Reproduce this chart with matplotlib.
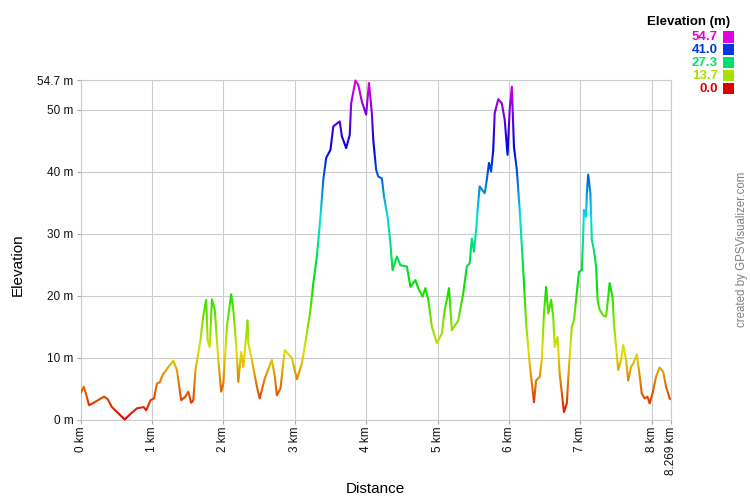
import numpy as np
import matplotlib
matplotlib.use("Agg")
import matplotlib.pyplot as plt
from matplotlib.colors import hsv_to_rgb
from matplotlib.transforms import Bbox, TransformedBbox
from matplotlib.patches import Rectangle

plt.rcParams['font.family'] = ['Liberation Sans', 'DejaVu Sans']

# ---- data (distance km, elevation m) ----
dist = [0.00, 0.046, 0.08, 0.12, 0.20, 0.33, 0.38, 0.44, 0.53, 0.62, 0.70, 0.79, 0.885, 0.92, 0.98,
        1.03, 1.07, 1.11, 1.15, 1.24, 1.30, 1.35, 1.38, 1.41, 1.47, 1.51, 1.55, 1.58, 1.61, 1.68,
        1.72, 1.76, 1.78, 1.81, 1.84, 1.88, 1.93, 1.97, 2.00, 2.05, 2.11, 2.14, 2.18, 2.21, 2.25,
        2.28, 2.34, 2.35, 2.40, 2.47, 2.51, 2.58, 2.68, 2.72, 2.75, 2.80, 2.86, 2.96, 3.03, 3.10,
        3.15, 3.22, 3.26, 3.31, 3.36, 3.40, 3.44, 3.50, 3.54, 3.63, 3.66, 3.72, 3.77, 3.79, 3.85,
        3.89, 3.94, 4.00, 4.04, 4.08, 4.10, 4.14, 4.17, 4.22, 4.25, 4.30, 4.34, 4.37, 4.43, 4.48,
        4.57, 4.62, 4.69, 4.73, 4.79, 4.83, 4.87, 4.92, 4.99, 5.06, 5.10, 5.13, 5.16, 5.20, 5.29,
        5.36, 5.41, 5.45, 5.48, 5.51, 5.54, 5.56, 5.59, 5.66, 5.69, 5.72, 5.75, 5.78, 5.80, 5.85,
        5.90, 5.94, 5.98, 6.01, 6.04, 6.07, 6.11, 6.15, 6.20, 6.24, 6.29, 6.35, 6.38, 6.43, 6.46,
        6.49, 6.52, 6.55, 6.59, 6.62, 6.64, 6.68, 6.71, 6.77, 6.81, 6.84, 6.88, 6.91, 6.95, 6.98,
        7.02, 7.04, 7.05, 7.08, 7.09, 7.11, 7.14, 7.16, 7.19, 7.22, 7.24, 7.27, 7.32, 7.36, 7.39,
        7.41, 7.45, 7.47, 7.50, 7.53, 7.57, 7.60, 7.64, 7.67, 7.71, 7.74, 7.79, 7.82, 7.86, 7.90,
        7.94, 7.97, 8.01, 8.06, 8.11, 8.16, 8.20, 8.25, 8.269]
elev = [4.2, 5.3, 4.0, 2.3, 2.8, 3.7, 3.3, 2.0, 1.0, 0.0, 0.9, 1.8, 2.0, 1.5, 3.1,
        3.4, 5.8, 6.0, 7.2, 8.6, 9.5, 8.0, 5.5, 3.1, 3.7, 4.5, 2.7, 3.1, 8.0, 12.8,
        16.8, 19.3, 12.8, 11.7, 19.4, 17.7, 9.6, 4.5, 5.8, 15.0, 20.2, 17.7, 12.0, 6.1, 10.9,
        8.5, 16.0, 12.3, 9.6, 5.3, 3.4, 6.6, 9.6, 7.0, 3.9, 5.0, 11.2, 9.9, 6.5, 9.0,
        12.5, 17.7, 22.0, 26.3, 32.7, 38.7, 42.2, 43.5, 47.3, 48.1, 45.7, 43.8, 45.9, 51.0, 54.7,
        54.0, 51.3, 49.2, 54.3, 49.4, 45.1, 40.3, 39.2, 38.9, 36.0, 32.7, 28.4, 24.1, 26.3, 24.9,
        24.7, 21.4, 22.5, 21.2, 19.8, 21.2, 19.3, 15.0, 12.3, 13.9, 17.7, 19.3, 21.2, 14.4, 16.0,
        20.4, 24.7, 25.2, 29.2, 27.1, 30.6, 33.8, 37.6, 36.5, 38.7, 41.4, 40.0, 43.5, 49.4, 51.7,
        51.0, 48.4, 42.7, 50.0, 53.7, 44.0, 40.3, 33.8, 24.1, 15.5, 9.0, 2.8, 6.3, 6.9, 9.6,
        17.1, 21.4, 17.1, 19.3, 16.6, 11.7, 13.3, 7.4, 1.2, 2.6, 8.5, 15.0, 16.0, 20.4, 23.8,
        24.1, 30.0, 33.8, 32.7, 36.5, 39.5, 36.5, 29.0, 27.3, 24.7, 19.3, 17.7, 16.8, 16.6, 19.8,
        22.0, 19.8, 15.5, 11.7, 8.0, 9.6, 12.0, 9.6, 6.3, 8.5, 9.0, 10.5, 8.0, 4.2, 3.4,
        3.7, 2.6, 4.2, 6.9, 8.4, 7.7, 5.3, 3.4, 3.2]

x_ticks = [0, 1, 2, 3, 4, 5, 6, 7, 8, 8.269]
x_labels = ['0 km', '1 km', '2 km', '3 km', '4 km', '5 km', '6 km', '7 km', '8 km', '8.269 km']
y_ticks = [0, 10, 20, 30, 40, 50, 54.7]
y_labels = ['0 m', '10 m', '20 m', '30 m', '40 m', '50 m', '54.7 m']
legend_values = [54.7, 41.0, 27.3, 13.7, 0.0]
legend_labels = ['54.7', '41.0', '27.3', '13.7', '0.0']

EMIN, EMAX = 0.0, 54.7
XMAX = 8.269


def elev_color(e):
    f = min(max((e - EMIN) / (EMAX - EMIN), 0.0), 1.0)
    return hsv_to_rgb([300.0 / 360.0 * f, 1.0, 0.88])


W, H = 750, 500
fig = plt.figure(figsize=(7.5, 5), dpi=100)
L, R, T, B = 80.5, 671, 80.5, 419.5
ax = fig.add_axes([L / W, 1 - B / H, (R - L) / W, (B - T) / H])
ax.set_xlim(0, XMAX)
ax.set_ylim(EMIN, EMAX)

grid_c = '#CCCCCC'
ax.set_xticks(x_ticks)
ax.set_xticklabels(x_labels, rotation=90)
ax.set_yticks(y_ticks)
ax.set_yticklabels(y_labels)
ax.grid(True, color=grid_c, lw=0.8, zorder=0)
ax.set_axisbelow(True)
for s in ax.spines.values():
    s.set_color(grid_c)
    s.set_linewidth(0.8)
ax.tick_params(axis='both', color='#AAAAAA', length=3, width=0.8,
               labelsize=8.5, labelcolor='#111111', pad=2)

# gradient-coloured line: draw the line in horizontal bands, each clipped
edges = np.arange(-3.0, 58.0, 0.5)
for a, b in zip(edges[:-1], edges[1:]):
    col = elev_color((a + b) / 2)
    ln, = ax.plot(dist, elev, color=col, lw=1.5, zorder=3,
                  solid_joinstyle='round', solid_capstyle='butt')
    ln.set_clip_box(TransformedBbox(Bbox([[0, a], [XMAX, b]]), ax.transData))

ax.set_xlabel('Distance', fontsize=11, labelpad=0)
ax.xaxis.set_label_coords(((375) - L) / (R - L), -(489 - B) / (B - T))
ax.set_ylabel('Elevation', fontsize=11)
ax.yaxis.set_label_coords((18 - L) / (R - L), (B - 265) / (B - T))
ax.xaxis.label.set_va('center')
ax.yaxis.label.set_va('center')

# legend
fig.text(730 / W, 1 - 22 / H, 'Elevation (m)', ha='right', va='center',
         fontsize=9.5, fontweight='bold', color='#000000')
for i, (v, lab) in enumerate(zip(legend_values, legend_labels)):
    yc = 37 + 12.9 * i
    c = elev_color(v)
    fig.text(718 / W, 1 - yc / H, lab, ha='right', va='center',
             fontsize=9.5, fontweight='bold', color=c)
    fig.patches.append(Rectangle((723 / W, 1 - (yc + 5.5) / H), 10.5 / W, 11 / H,
                                 transform=fig.transFigure, facecolor=c,
                                 edgecolor='none'))

fig.text(742 / W, 1 - 249 / H, 'created by GPSVisualizer.com', rotation=90,
         ha='center', va='center', fontsize=8.3, color='#808080')

fig.savefig('out.png', dpi=100)
